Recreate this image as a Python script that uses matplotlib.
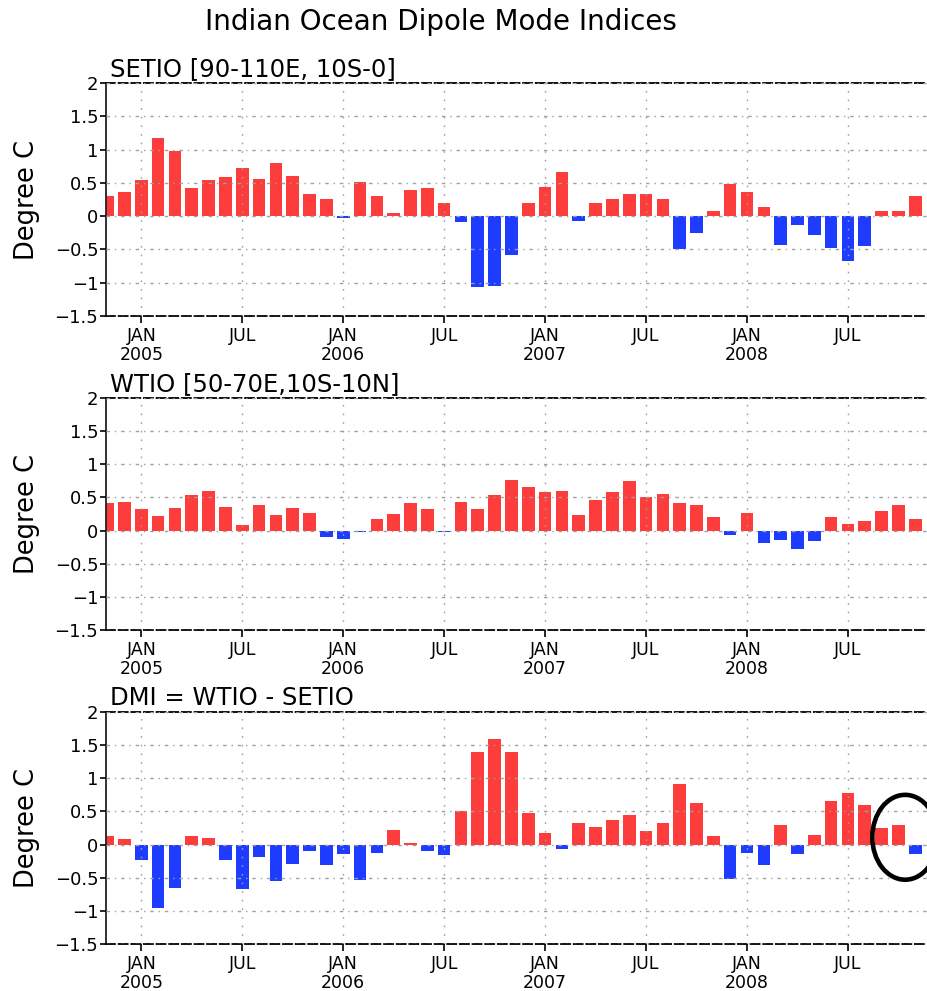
import numpy as np
import pandas as pd
import matplotlib
matplotlib.use('Agg')
import matplotlib.pyplot as plt
from matplotlib.patches import Ellipse

# monthly anomalies, Nov 2004 - Nov 2008 (degree C)
months = pd.date_range('2004-11-01', '2008-11-01', freq='MS')

setio = [0.30, 0.37, 0.54, 1.18, 0.98, 0.42, 0.54, 0.59, 0.73, 0.56, 0.80, 0.61,
         0.34, 0.25, -0.03, 0.51, 0.30, 0.05, 0.39, 0.42, 0.20, -0.09, -1.07, -1.05,
         -0.59, 0.20, 0.44, 0.66, -0.07, 0.20, 0.25, 0.33, 0.34, 0.25, -0.50, -0.26,
         0.08, 0.49, 0.37, 0.13, -0.43, -0.14, -0.29, -0.48, -0.67, -0.45, 0.08, 0.08,
         0.30]

wtio = [0.41, 0.43, 0.32, 0.22, 0.34, 0.53, 0.60, 0.36, 0.08, 0.39, 0.24, 0.34,
        0.27, -0.09, -0.13, -0.02, 0.17, 0.25, 0.41, 0.32, -0.02, 0.43, 0.32, 0.53,
        0.77, 0.65, 0.58, 0.60, 0.24, 0.46, 0.58, 0.75, 0.51, 0.55, 0.41, 0.39,
        0.20, -0.07, 0.27, -0.19, -0.14, -0.28, -0.16, 0.20, 0.10, 0.15, 0.29, 0.39,
        0.17]

dmi = [0.13, 0.08, -0.24, -0.96, -0.65, 0.13, 0.10, -0.24, -0.67, -0.19, -0.55, -0.29,
       -0.09, -0.31, -0.14, -0.53, -0.12, 0.22, 0.02, -0.09, -0.16, 0.51, 1.39, 1.60,
       1.39, 0.47, 0.18, -0.07, 0.32, 0.27, 0.37, 0.44, 0.20, 0.32, 0.92, 0.63,
       0.13, -0.52, -0.12, -0.31, 0.30, -0.14, 0.15, 0.66, 0.78, 0.59, 0.25, 0.30,
       -0.14]

panels = [('SETIO [90-110E, 10S-0]', setio),
          ('WTIO [50-70E,10S-10N]', wtio),
          ('DMI = WTIO - SETIO', dmi)]

yticks = [-1.5, -1.0, -0.5, 0.0, 0.5, 1.0, 1.5, 2.0]
highlight = ['2008-09', '2008-10', '2008-11']

RED = '#fd3c3c'
BLUE = '#1e3cff'
W, H = 927, 991

fig = plt.figure(figsize=(W / 100, H / 100), dpi=100)
fig.text(441 / W, 1 - 22 / H, 'Indian Ocean Dipole Mode Indices',
         ha='center', va='center', fontsize=20)

# axes boxes in pixels: (top, bottom)
boxes = [(83, 316), (398, 630), (712, 944)]
left_px = 106

x = np.arange(len(months))
tick_idx = [i for i, d in enumerate(months) if d.month in (1, 7)]
tick_lab = [f'JAN\n{months[i].year}' if months[i].month == 1 else 'JUL' for i in tick_idx]

axes = []
for (title, vals), (top, bot) in zip(panels, boxes):
    ax = fig.add_axes([left_px / W, 1 - bot / H, 1 - left_px / W, (bot - top) / H])
    vals = np.array(vals)
    colors = np.where(vals >= 0, RED, BLUE)
    ax.bar(x, vals, width=0.75, color=colors, edgecolor='none', zorder=1)
    ax.set_xlim(-0.1, 48.7)
    ax.set_ylim(-1.5, 2.0)
    ax.set_yticks(yticks)
    ax.set_yticklabels([f'{v:g}'.replace('-', '\u2212') for v in yticks])
    ax.set_xticks(tick_idx)
    ax.set_xticklabels(tick_lab, linespacing=1.05)
    ax.tick_params(axis='x', length=5, width=1.2, pad=3, labelsize=12.5)
    ax.tick_params(axis='y', length=4, width=1.2, pad=1.5, labelsize=13)

    ax.set_axisbelow(False)
    ax.xaxis.grid(True, color='#a0a0a0', linestyle=(0, (1.2, 5)), linewidth=1.0)
    ax.yaxis.grid(True, color='#a0a0a0', linestyle=(0, (2.5, 3.5, 1, 3.5)), linewidth=1.0)

    ax.spines['right'].set_visible(False)
    for s in ('top', 'bottom'):
        ax.spines[s].set_linestyle((0, (5, 2)))
        ax.spines[s].set_linewidth(1.3)
    ax.spines['left'].set_linewidth(1.3)
    ax.spines['left'].set_color('#222222')

    ax.text(0.005, 1.03, title, transform=ax.transAxes, ha='left', va='baseline',
            fontsize=17.5)
    ax.set_ylabel('Degree C', fontsize=18.5, va='center')
    ax.yaxis.set_label_coords(-0.096, 0.5)
    axes.append(ax)

# circle drawn around the last three months of the DMI panel
hi = [i for i, d in enumerate(months) if d.strftime('%Y-%m') in highlight]
axes[2].add_patch(Ellipse((np.mean(hi) + 0.4, 0.11), 3.9, 1.28, fill=False,
                          edgecolor='black', linewidth=3.3, clip_on=False, zorder=5))

fig.savefig('out.png', dpi=100)
